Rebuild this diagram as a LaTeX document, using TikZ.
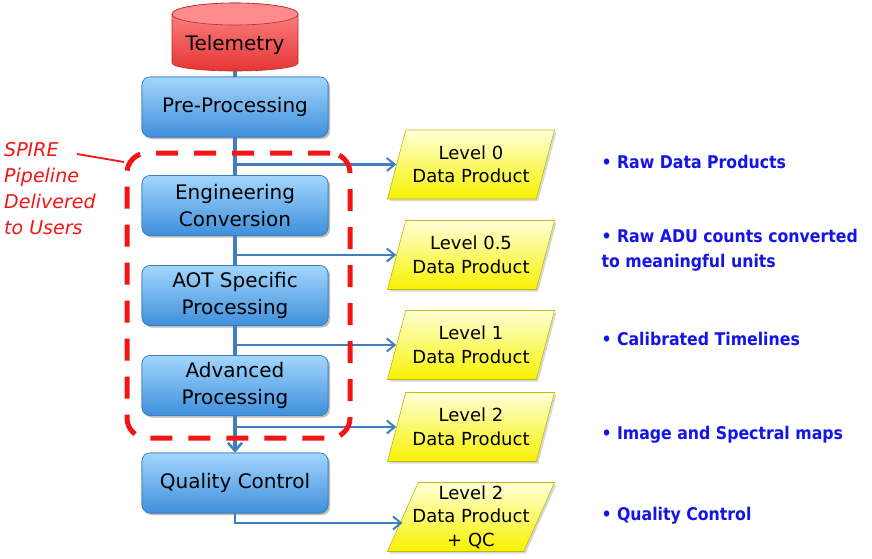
\documentclass[tikz,border=0pt]{standalone}
\usepackage{fontspec}
\setmainfont{DejaVu Sans}
\newfontfamily\bluefont{DejaVu Sans Condensed}
\usetikzlibrary{shapes.geometric,shadows,arrows.meta,calc}
\definecolor{lineblue}{HTML}{3F7FBF}
\definecolor{boxtop}{HTML}{A3D6FD}
\definecolor{boxbot}{HTML}{3E8FDB}
\definecolor{boxedge}{HTML}{3A7CC0}
\definecolor{yeltop}{HTML}{FFFFD8}
\definecolor{yelbot}{HTML}{F7F200}
\definecolor{yeledge}{HTML}{BDBA00}
\definecolor{redtop}{HTML}{FF8C8C}
\definecolor{redbot}{HTML}{E53535}
\definecolor{rededge}{HTML}{C02828}
\definecolor{dashred}{HTML}{F41414}
\definecolor{txtblue}{HTML}{1414E8}
\begin{document}
\begin{tikzpicture}[x=1pt,y=-1pt,
  procbox/.style={rounded corners=8pt, draw=boxedge, line width=0.6pt,
    top color=boxtop, bottom color=boxbot, minimum width=186pt, minimum height=60pt,
    align=center, font=\fontsize{20}{27}\selectfont,
    drop shadow={shadow xshift=2pt, shadow yshift=-2pt, opacity=0.3}},
  dataprod/.style={trapezium, trapezium left angle=64, trapezium right angle=116,
    trapezium stretches body, draw=yeledge, line width=0.6pt,
    top color=yeltop, bottom color=yelbot, minimum width=167pt, minimum height=69pt,
    inner xsep=0pt, inner ysep=0pt, align=center, font=\fontsize{18}{23.5}\selectfont,
    drop shadow={shadow xshift=2pt, shadow yshift=-2pt, opacity=0.3}},
  flow/.style={draw=lineblue, line width=3.5pt},
  branch/.style={draw=lineblue, line width=2.5pt, -{Straight Barb[length=8pt,width=13pt,line width=2pt]}},
  note/.style={anchor=west, align=left, text=txtblue, font=\bluefont\bfseries\fontsize{17.5}{25}\selectfont},
  group/.style={draw=dashred, line width=5pt, dash pattern=on 22pt off 16pt, rounded corners=20pt}
]
\useasboundingbox (0,0) rectangle (872,558);

% coordinates
\coordinate (telb) at (235,70);

% process boxes
\node[procbox] (pre) at (235,107) {Pre-Processing};
\node[procbox] (eng) at (235,205.5) {Engineering\\Conversion};
\node[procbox] (aot) at (235,295.5) {AOT Specific\\Processing};
\node[procbox] (adv) at (235,385.5) {Advanced\\Processing};
\node[procbox] (qc) at (235,483) {Quality Control};

% data products
\node[dataprod] (l0) at (471,164.5) {Level 0\\Data Product};
\node[dataprod] (l05) at (471,255) {Level 0.5\\Data Product};
\node[dataprod] (l1) at (471,345) {Level 1\\Data Product};
\node[dataprod] (l2) at (471,427) {Level 2\\Data Product};
\node[dataprod, inner xsep=-17pt] (l2q) at (471,517) {Level 2\\Data Product\\+ QC};

% flow lines
\path[flow] (telb) -- (pre.north);
\path[flow] (pre.south) -- (eng.north);
\path[flow] (eng.south) -- (aot.north);
\path[flow] (aot.south) -- (adv.north);
\path[flow, -{Straight Barb[length=8pt,width=14pt,line width=2.5pt]}] (adv.south) -- (qc.north);
\path[branch] (pre.south |- l0.west) -- (l0.west);
\path[branch] (eng.south |- l05.west) -- (l05.west);
\path[branch] (aot.south |- l1.west) -- (l1.west);
\path[branch] (adv.south |- l2.west) -- (l2.west);
\path[branch] (qc.south) |- ($(l2q.west)+(0,6)$);

% redraw boxes on top of lines
\node[procbox] at (pre) {Pre-Processing};
\node[procbox] at (eng) {Engineering\\Conversion};
\node[procbox] at (aot) {AOT Specific\\Processing};
\node[procbox] at (adv) {Advanced\\Processing};
\node[procbox] at (qc) {Quality Control};

% telemetry cylinder
\shade[top color=redtop, bottom color=redbot, draw=rededge, line width=0.6pt]
  (172,14) -- (172,63) arc[start angle=180, end angle=360, x radius=63pt, y radius=8pt]
  -- (298,14) arc[start angle=0, end angle=180, x radius=63pt, y radius=11pt] -- cycle;
\draw[rededge, line width=0.6pt, fill=redtop]
  (172,14) arc[start angle=180, end angle=360, x radius=63pt, y radius=11pt]
  arc[start angle=0, end angle=180, x radius=63pt, y radius=11pt];
\node[font=\fontsize{20}{24}\selectfont] (tel) at (235,45) {Telemetry};

% dashed group
\node[group, minimum width=223pt, minimum height=285pt] (grp) at (238.5,295.5) {};

% SPIRE label
\node[anchor=north west, align=left, text=dashred, inner sep=0pt,
  font=\itshape\fontsize{19}{26}\selectfont] (spire) at (4,142) {SPIRE\\Pipeline\\Delivered\\to Users};
\coordinate (spa) at (77,154);
\coordinate (spb) at (124,162);
\draw[dashred, line width=1.8pt] (spa) -- (spb);

% notes
\node[note] (n0) at (598,162) {• Raw Data Products};
\node[note] (n05) at (598,250) {• Raw ADU counts converted\\to meaningful units};
\node[note] (n1) at (598,339) {• Calibrated Timelines};
\node[note] (n2) at (598,435) {• Image and Spectral maps};
\node[note] (nq) at (598,516) {• Quality Control};
\end{tikzpicture}
\end{document}
